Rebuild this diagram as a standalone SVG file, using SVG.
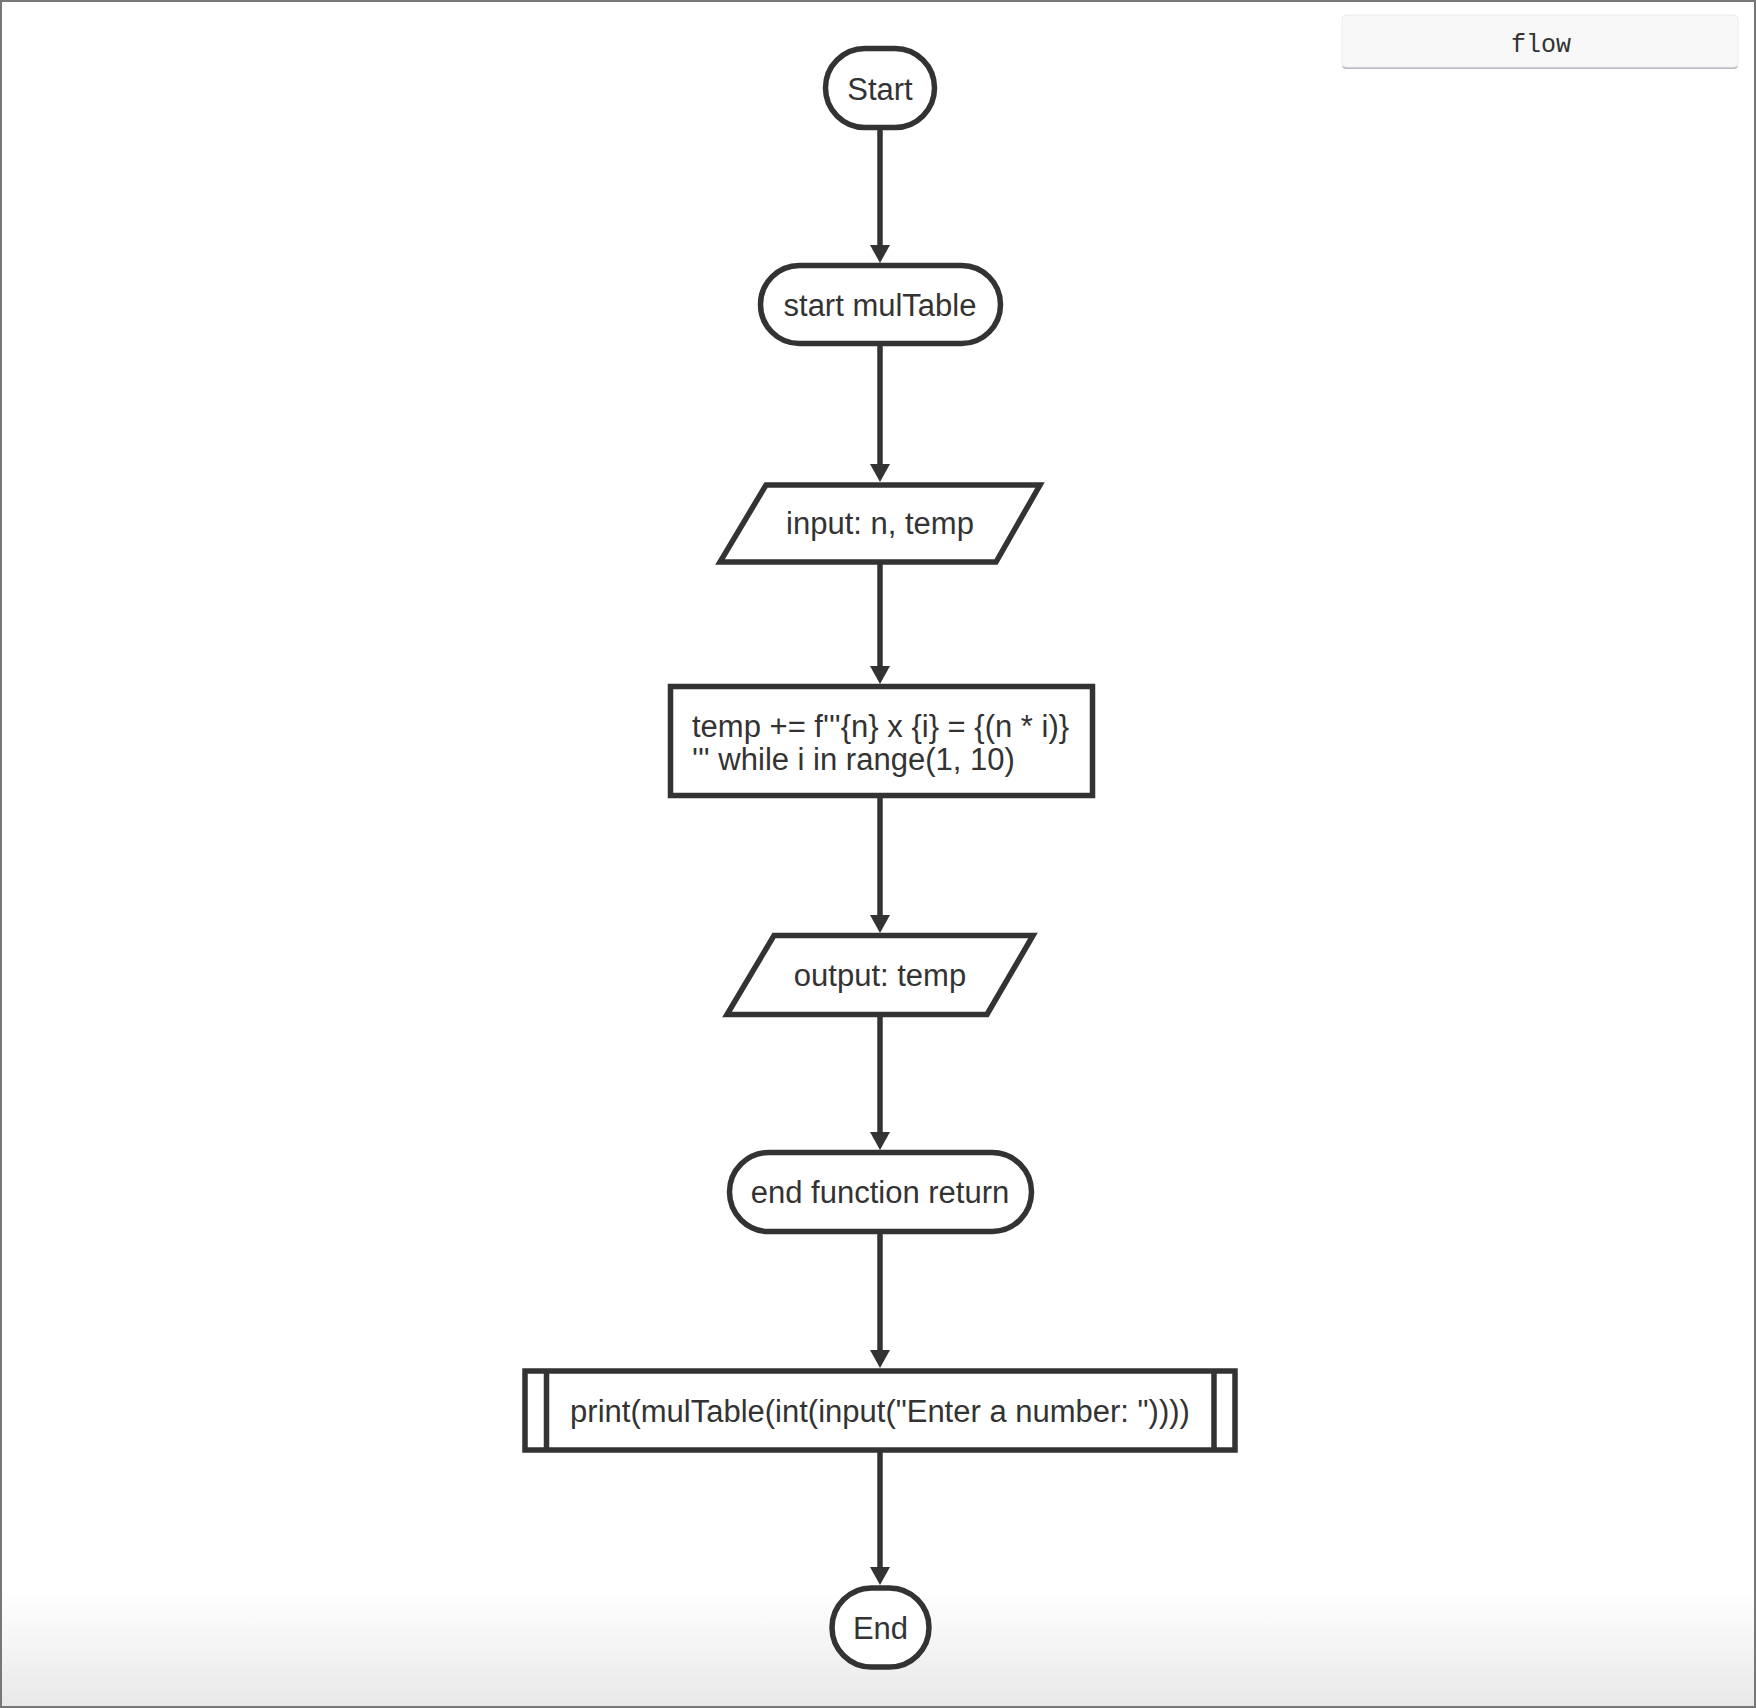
<svg xmlns="http://www.w3.org/2000/svg" width="1756" height="1708" viewBox="0 0 1756 1708">
<defs>
<linearGradient id="bg" x1="0" y1="0" x2="0" y2="1">
<stop offset="0" stop-color="#ffffff"/>
<stop offset="1" stop-color="#e8e8e8"/>
</linearGradient>
<marker id="arr" markerUnits="userSpaceOnUse" markerWidth="18" markerHeight="20" refX="0" refY="10" orient="auto">
<path d="M0,0 L18,10 L0,20 z" fill="#333333"/>
</marker>
</defs>
<style>
.node{fill:#ffffff;stroke:#333333;stroke-width:5.5}
.lbl{font-family:"Liberation Sans",Arial,sans-serif;font-size:31px;fill:#333333}
.c{text-anchor:middle}
.edge{stroke:#333333;stroke-width:5.5;fill:none;marker-end:url(#arr)}
</style>
<rect x="0" y="0" width="1756" height="1708" fill="#ffffff"/>
<rect x="0" y="1590" width="1756" height="118" fill="url(#bg)"/>
<rect x="1" y="1" width="1754" height="1706" fill="none" stroke="#777777" stroke-width="2"/>
<g id="flow-button">
<rect x="1342" y="17" width="396" height="52" rx="4" fill="#b8b8c0"/>
<rect x="1342" y="15" width="396" height="52" rx="4" fill="#f8f8f8" stroke="#ececec" stroke-width="1"/>
<text x="1541" y="52" font-family="'Liberation Mono','Courier New',monospace" font-size="25" fill="#333333" text-anchor="middle">flow</text>
</g>
<g id="connectors">
<path class="edge" d="M880,127.5 V245"/>
<path class="edge" d="M880,343.5 V464"/>
<path class="edge" d="M880,562 V666"/>
<path class="edge" d="M880,796 V915"/>
<path class="edge" d="M880,1014.5 V1132"/>
<path class="edge" d="M880,1231.5 V1350"/>
<path class="edge" d="M880,1450 V1567"/>
</g>
<g id="start">
<rect class="node" x="825.5" y="48.5" width="109" height="79" rx="39.5"/>
<text class="lbl c" x="880" y="100">Start</text>
</g>
<g id="start-mulTable">
<rect class="node" x="760.5" y="265.5" width="240" height="78" rx="39"/>
<text class="lbl c" x="880" y="316">start mulTable</text>
</g>
<g id="input">
<polygon class="node" points="766,485 1040,485 996,562 720,562"/>
<text class="lbl c" x="880" y="534">input: n, temp</text>
</g>
<g id="loop">
<rect class="node" x="670.5" y="686.5" width="422" height="109"/>
<text class="lbl" x="692" y="737">temp += f'''{n} x {i} = {(n * i)}</text>
<text class="lbl" x="692" y="770">''' while i in range(1, 10)</text>
</g>
<g id="output">
<polygon class="node" points="774,935.5 1033,935.5 987,1014.5 727,1014.5"/>
<text class="lbl c" x="880" y="986">output: temp</text>
</g>
<g id="end-function">
<rect class="node" x="729.5" y="1152.5" width="302" height="79" rx="39.5"/>
<text class="lbl c" x="880" y="1203">end function return</text>
</g>
<g id="print">
<rect class="node" x="525" y="1371" width="710" height="79"/>
<line x1="546.5" y1="1371" x2="546.5" y2="1450" stroke="#333333" stroke-width="5.5"/>
<line x1="1214" y1="1371" x2="1214" y2="1450" stroke="#333333" stroke-width="5.5"/>
<text class="lbl c" x="880" y="1422">print(mulTable(int(input("Enter a number: "))))</text>
</g>
<g id="end">
<rect class="node" x="832" y="1588" width="97" height="79" rx="39.5"/>
<text class="lbl c" x="880.5" y="1639">End</text>
</g>
</svg>
